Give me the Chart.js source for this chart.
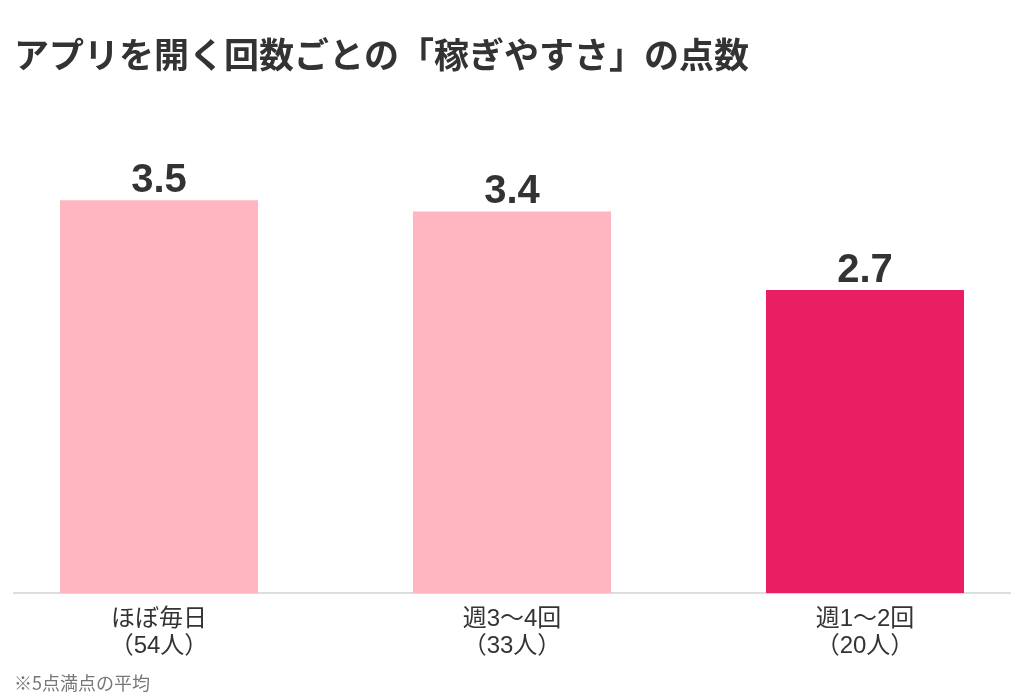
<!DOCTYPE html>
<html lang="ja">
<head>
<meta charset="utf-8">
<title>アプリを開く回数ごとの「稼ぎやすさ」の点数</title>
<script src="https://cdn.jsdelivr.net/npm/chart.js@4/dist/chart.umd.min.js"></script>
<style>
    html, body { margin: 0; padding: 0; background: #fff; }
    #wrap { width: 1024px; height: 700px; }
</style>
</head>
<body>
<div id="wrap"><canvas id="chartKasegi"></canvas></div>
<script>
// データ
const categories = ['ほぼ毎日', '週3〜4回', '週1〜2回'];
const respondents = [54, 33, 20];
const scores = [3.5, 3.4, 2.7];
const barColors = ['#FFB6C1', '#FFB6C1', '#E91E63'];

const JP_FONT = '"Noto Sans CJK JP", "Noto Sans", sans-serif';
const NUM_FONT = '"Liberation Sans", "Noto Sans CJK JP", sans-serif';

// 棒の上に数値を描く
const valueLabels = {
    id: 'valueLabels',
    afterDatasetsDraw(chart) {
        const ctx = chart.ctx;
        const meta = chart.getDatasetMeta(0);
        ctx.save();
        ctx.font = 'bold 40px ' + NUM_FONT;
        ctx.fillStyle = '#333';
        ctx.textAlign = 'center';
        ctx.textBaseline = 'alphabetic';
        meta.data.forEach((bar, i) => {
            ctx.fillText(scores[i].toFixed(1), bar.x, bar.y - 8);
        });
        ctx.restore();
    }
};

const ctx = document.getElementById('chartKasegi').getContext('2d');
new Chart(ctx, {
    type: 'bar',
    data: {
        datasets: [{
            data: scores.map((v, i) => ({ x: i, y: v })),
            backgroundColor: barColors,
            borderWidth: 0,
            categoryPercentage: 1,
            barPercentage: 0.561
        }]
    },
    options: {
        responsive: true,
        maintainAspectRatio: false,
        animation: false,
        layout: { padding: { left: 14, right: 14, top: 0, bottom: 0 } },
        plugins: {
            legend: { display: false },
            tooltip: { enabled: false },
            title: {
                display: true,
                text: 'アプリを開く回数ごとの「稼ぎやすさ」の点数',
                align: 'start',
                color: '#333',
                font: { family: JP_FONT, size: 35, weight: 'bold', lineHeight: 1.2 },
                padding: { top: 34, bottom: 68 }
            },
            subtitle: {
                display: true,
                position: 'bottom',
                text: '※5点満点の平均',
                align: 'start',
                color: '#777',
                font: { family: JP_FONT, size: 18, lineHeight: 1.2 },
                padding: { top: 0, bottom: 6 }
            }
        },
        scales: {
            x: {
                type: 'linear',
                offset: false,
                min: -0.4108,
                max: 2.4108,
                grid: { display: false, drawTicks: false },
                border: { display: true, color: '#dddddd', width: 2 },
                ticks: {
                    stepSize: 1,
                    includeBounds: false,
                    padding: 12,
                    color: '#333',
                    font: { family: NUM_FONT, size: 24, lineHeight: 1.15 },
                    callback: function (value) {
                        if (!Number.isInteger(value) || !categories[value]) return '';
                        return [categories[value], '（' + respondents[value] + '人）'];
                    }
                }
            },
            y: {
                display: false,
                min: 0,
                max: 4
            }
        }
    },
    plugins: [valueLabels]
});
</script>
</body>
</html>
